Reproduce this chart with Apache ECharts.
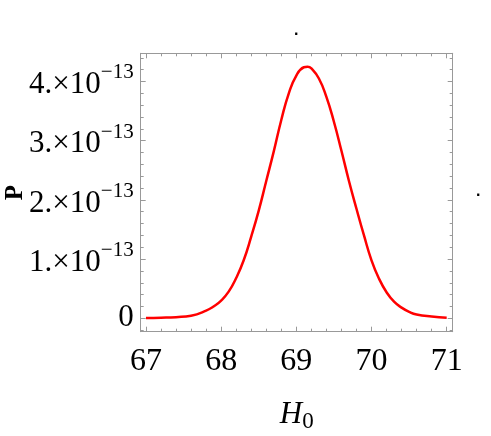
<!DOCTYPE html>
<html>
<head>
<meta charset="utf-8">
<script src="https://cdn.jsdelivr.net/npm/echarts@6/dist/echarts.min.js"></script>
<style>
  html, body { margin: 0; padding: 0; background: #fff; }
  #chart { width: 491px; height: 436px; }
</style>
</head>
<body>
<div id="chart"></div>
<script>
// H0 values and P (in units of 1e-13)
const h0 = [67.0, 67.2, 67.4, 67.6, 67.8, 67.9, 68.0, 68.1, 68.2, 68.3, 68.4, 68.5, 68.6, 68.7, 68.8, 68.9,
  69.0, 69.1, 69.15, 69.2, 69.3, 69.4, 69.5, 69.6, 69.7, 69.8, 69.9, 70.0, 70.1, 70.2, 70.3, 70.4,
  70.5, 70.6, 70.8, 71.0];
const pVal = [0.005, 0.01, 0.02, 0.045, 0.13, 0.2, 0.30, 0.45, 0.68, 0.98, 1.38, 1.82, 2.32, 2.82, 3.35, 3.80,
  4.10, 4.24, 4.25, 4.22, 4.05, 3.74, 3.32, 2.83, 2.32, 1.85, 1.40, 0.98, 0.67, 0.44, 0.28, 0.18,
  0.11, 0.065, 0.03, 0.01];

const xMajor = [67, 68, 69, 70, 71];
const xMinor = [67.2, 67.4, 67.6, 67.8, 68.2, 68.4, 68.6, 68.8, 69.2, 69.4, 69.6, 69.8,
  70.2, 70.4, 70.6, 70.8];
const yMajor = [0, 1, 2, 3, 4];
const yMinor = [-0.2, 0.2, 0.4, 0.6, 0.8, 1.2, 1.4, 1.6, 1.8, 2.2, 2.4, 2.6, 2.8,
  3.2, 3.4, 3.6, 3.8, 4.2, 4.4];

const font = "'Liberation Serif', serif";
const frameColor = '#999';

function xAxisDef(pos, ticks, len, line, labels) {
  return {
    type: 'value', position: pos, min: 66.93, max: 71.08,
    axisLine: { show: line, onZero: false, lineStyle: { color: frameColor, width: 1 } },
    axisTick: { show: true, inside: true, length: len, customValues: ticks,
      lineStyle: { color: frameColor } },
    axisLabel: labels ? {
      customValues: xMajor, color: '#000', fontFamily: font, fontSize: 32, margin: 14
    } : { show: false },
    splitLine: { show: false }
  };
}

function yAxisDef(pos, ticks, len, line, labels) {
  return {
    type: 'value', position: pos, min: -0.226, max: 4.476,
    axisLine: { show: line, onZero: false, lineStyle: { color: frameColor, width: 1 } },
    axisTick: { show: true, inside: true, length: len, customValues: ticks,
      lineStyle: { color: frameColor } },
    axisLabel: labels ? {
      customValues: yMajor, margin: 7,
      formatter: v => v === 0 ? '{b|0}' : '{b|' + v + '.×10}{s|−13}',
      rich: {
        b: { color: '#000', fontFamily: font, fontSize: 31, verticalAlign: 'bottom' },
        s: { color: '#000', fontFamily: font, fontSize: 21, verticalAlign: 'bottom', padding: [0, 0, 17, 0] }
      }
    } : { show: false },
    splitLine: { show: false }
  };
}

const chart = echarts.init(document.getElementById('chart'));
chart.setOption({
  animation: false,
  grid: { left: 140.7, top: 53.3, width: 312, height: 278.4, outerBoundsMode: 'none' },
  xAxis: [
    Object.assign(xAxisDef('bottom', xMajor, 5, true, true), {
      name: '{h|H}{s|0}', nameLocation: 'middle', nameGap: 68, nameMoveOverlap: false,
      nameTextStyle: {
        rich: {
          h: { fontFamily: font, fontStyle: 'italic', fontSize: 31, color: '#000', verticalAlign: 'bottom' },
          s: { fontFamily: font, fontSize: 23, color: '#000', verticalAlign: 'bottom', padding: [0, 0, -3, 0] }
        }
      }
    }),
    xAxisDef('bottom', xMinor, 3, false, false),
    xAxisDef('top', xMajor, 5, true, false),
    xAxisDef('top', xMinor, 3, false, false)
  ],
  yAxis: [
    Object.assign(yAxisDef('left', yMajor, 5, true, true), {
      name: 'P', nameLocation: 'middle', nameGap: 113, nameMoveOverlap: false,
      nameTextStyle: { fontFamily: font, fontWeight: 'bold', fontSize: 25, color: '#000' }
    }),
    yAxisDef('left', yMinor, 3, false, false),
    yAxisDef('right', yMajor, 5, true, false),
    yAxisDef('right', yMinor, 3, false, false)
  ],
  graphic: [
    { type: 'text', left: 294, top: 23, style: { text: '.', font: "bold 16px 'Liberation Sans'", fill: '#000' } },
    { type: 'text', left: 476, top: 184, style: { text: '.', font: "bold 16px 'Liberation Sans'", fill: '#000' } }
  ],
  series: [{
    type: 'line',
    xAxisIndex: 0, yAxisIndex: 0,
    data: h0.map((x, i) => [x, pVal[i]]),
    smooth: 0.5,
    showSymbol: false,
    lineStyle: { color: '#ff0000', width: 2.5 }
  }]
});
</script>
</body>
</html>
